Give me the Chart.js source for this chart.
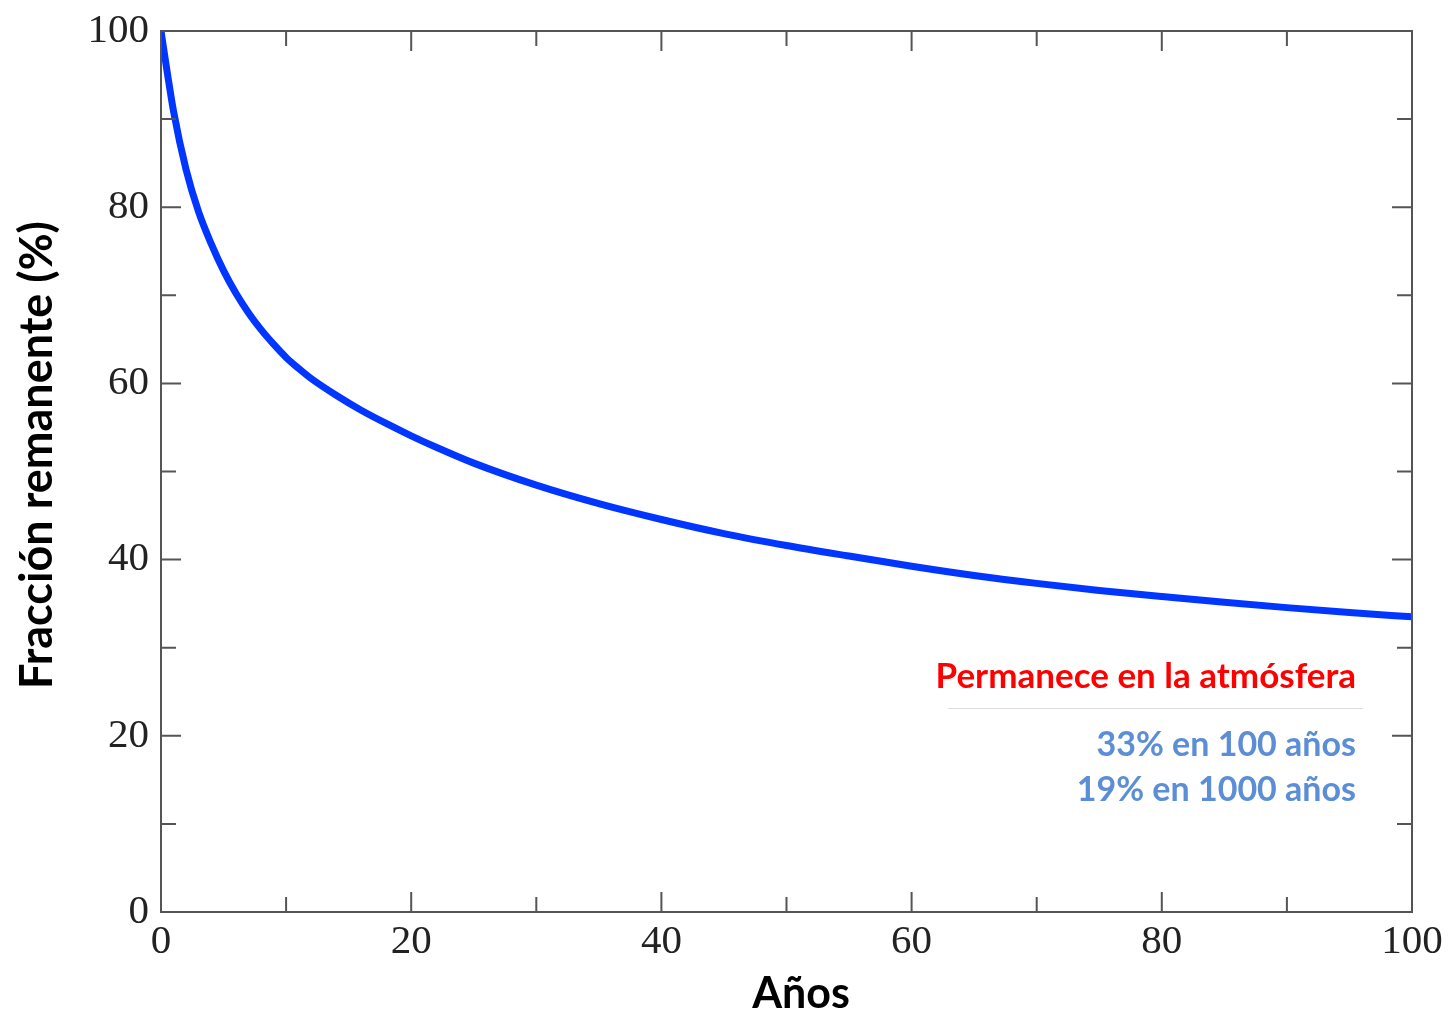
<!DOCTYPE html>
<html>
<head>
<meta charset="utf-8">
<script src="https://cdn.jsdelivr.net/npm/chart.js@4/dist/chart.umd.min.js"></script>
<style>
  html, body { margin: 0; padding: 0; background: #fff; }
  #grafico { display: block; }
</style>
</head>
<body>
<canvas id="grafico" width="1449" height="1013"></canvas>
<script>
// años transcurridos y fracción remanente (%)
const anios = [0, 0.5, 1, 2, 3, 4, 5, 6, 7, 8, 9, 10, 11, 12, 14, 16, 18, 20, 22, 25, 30, 35, 40, 45, 50, 55, 60, 65, 70, 75, 80, 85, 90, 95, 100];
const fraccion = [100, 95.3, 90.9, 84.3, 79.5, 75.9, 72.8, 70.2, 68.0, 66.1, 64.45, 62.95, 61.7, 60.55, 58.65, 56.95, 55.45, 54.05, 52.75, 50.95, 48.45, 46.35, 44.55, 42.95, 41.6, 40.4, 39.25, 38.2, 37.3, 36.5, 35.8, 35.15, 34.55, 34.0, 33.5];

const ticksX = [0, 20, 40, 60, 80, 100];
const ticksY = [0, 20, 40, 60, 80, 100];

const tituloX = 'Años';
const tituloY = 'Fracción remanente (%)';
const notaTitulo = 'Permanece en la atmósfera';
const notas = ['33% en 100 años', '19% en 1000 años'];

// marco con marcas hacia dentro en los cuatro lados
const marcoPlugin = {
  id: 'marco',
  afterDatasetsDraw(chart) {
    const { ctx, chartArea: a, scales } = chart;
    ctx.save();
    ctx.strokeStyle = '#555';
    ctx.lineWidth = 2;
    ctx.strokeRect(a.left, a.top, a.right - a.left, a.bottom - a.top);
    ctx.beginPath();
    for (let v = 10; v < 100; v += 10) {
      const largo = v % 20 === 0 ? 20 : 15;
      const px = scales.x.getPixelForValue(v);
      ctx.moveTo(px, a.bottom); ctx.lineTo(px, a.bottom - largo);
      ctx.moveTo(px, a.top); ctx.lineTo(px, a.top + largo);
      const py = scales.y.getPixelForValue(v);
      ctx.moveTo(a.left, py); ctx.lineTo(a.left + largo, py);
      ctx.moveTo(a.right, py); ctx.lineTo(a.right - largo, py);
    }
    ctx.stroke();
    ctx.restore();
  },
  afterDraw(chart) {
    const { ctx } = chart;
    ctx.save();
    // títulos de ejes
    ctx.fillStyle = '#000';
    ctx.textAlign = 'center';
    ctx.textBaseline = 'middle';
    ctx.font = 'bold 43px Lato';
    ctx.fillText(tituloX, 801, 994);
    ctx.translate(37, 455);
    ctx.rotate(-Math.PI / 2);
    ctx.font = 'bold 45px Lato';
    ctx.fillText(tituloY, 0, 0);
    ctx.restore();

    // nota de texto
    ctx.save();
    const xDer = 1356;
    ctx.textAlign = 'right';
    ctx.textBaseline = 'middle';
    ctx.font = 'bold 35px Lato';
    ctx.fillStyle = '#ff0000';
    ctx.fillText(notaTitulo, xDer, 677);
    ctx.strokeStyle = '#dcdcdc';
    ctx.lineWidth = 1;
    ctx.beginPath();
    ctx.moveTo(948, 708.5);
    ctx.lineTo(1363, 708.5);
    ctx.stroke();
    ctx.font = 'bold 34px Lato';
    ctx.fillStyle = '#5b8ed6';
    ctx.fillText(notas[0], xDer, 745);
    ctx.fillText(notas[1], xDer, 790);
    ctx.restore();
  }
};

const ctx = document.getElementById('grafico');
new Chart(ctx, {
  type: 'line',
  data: {
    datasets: [{
      data: anios.map((a, i) => ({ x: a, y: fraccion[i] })),
      borderColor: '#0036ff',
      borderWidth: 7,
      pointRadius: 0,
      fill: false,
      cubicInterpolationMode: 'monotone'
    }]
  },
  options: {
    responsive: false,
    animation: false,
    devicePixelRatio: 1,
    layout: { padding: { top: 31, right: 37, left: 0, bottom: 0 } },
    plugins: { legend: { display: false }, tooltip: { enabled: false } },
    scales: {
      x: {
        type: 'linear',
        min: 0,
        max: 100,
        afterBuildTicks: (s) => { s.ticks = ticksX.map(v => ({ value: v })); },
        afterFit: (s) => { s.height = 101; s.paddingLeft = 0; s.paddingRight = 0; },
        grid: { display: false, drawTicks: false },
        border: { display: false },
        ticks: {
          padding: 6,
          color: '#222',
          font: { family: 'Liberation Serif', size: 41 },
          maxRotation: 0
        }
      },
      y: {
        type: 'linear',
        min: 0,
        max: 100,
        afterBuildTicks: (s) => { s.ticks = ticksY.map(v => ({ value: v })); },
        afterFit: (s) => { s.width = 161; s.paddingTop = 0; s.paddingBottom = 0; },
        grid: { display: false, drawTicks: false },
        border: { display: false },
        ticks: {
          padding: 12,
          color: '#222',
          font: { family: 'Liberation Serif', size: 41 }
        }
      }
    }
  },
  plugins: [marcoPlugin]
});
</script>
</body>
</html>
